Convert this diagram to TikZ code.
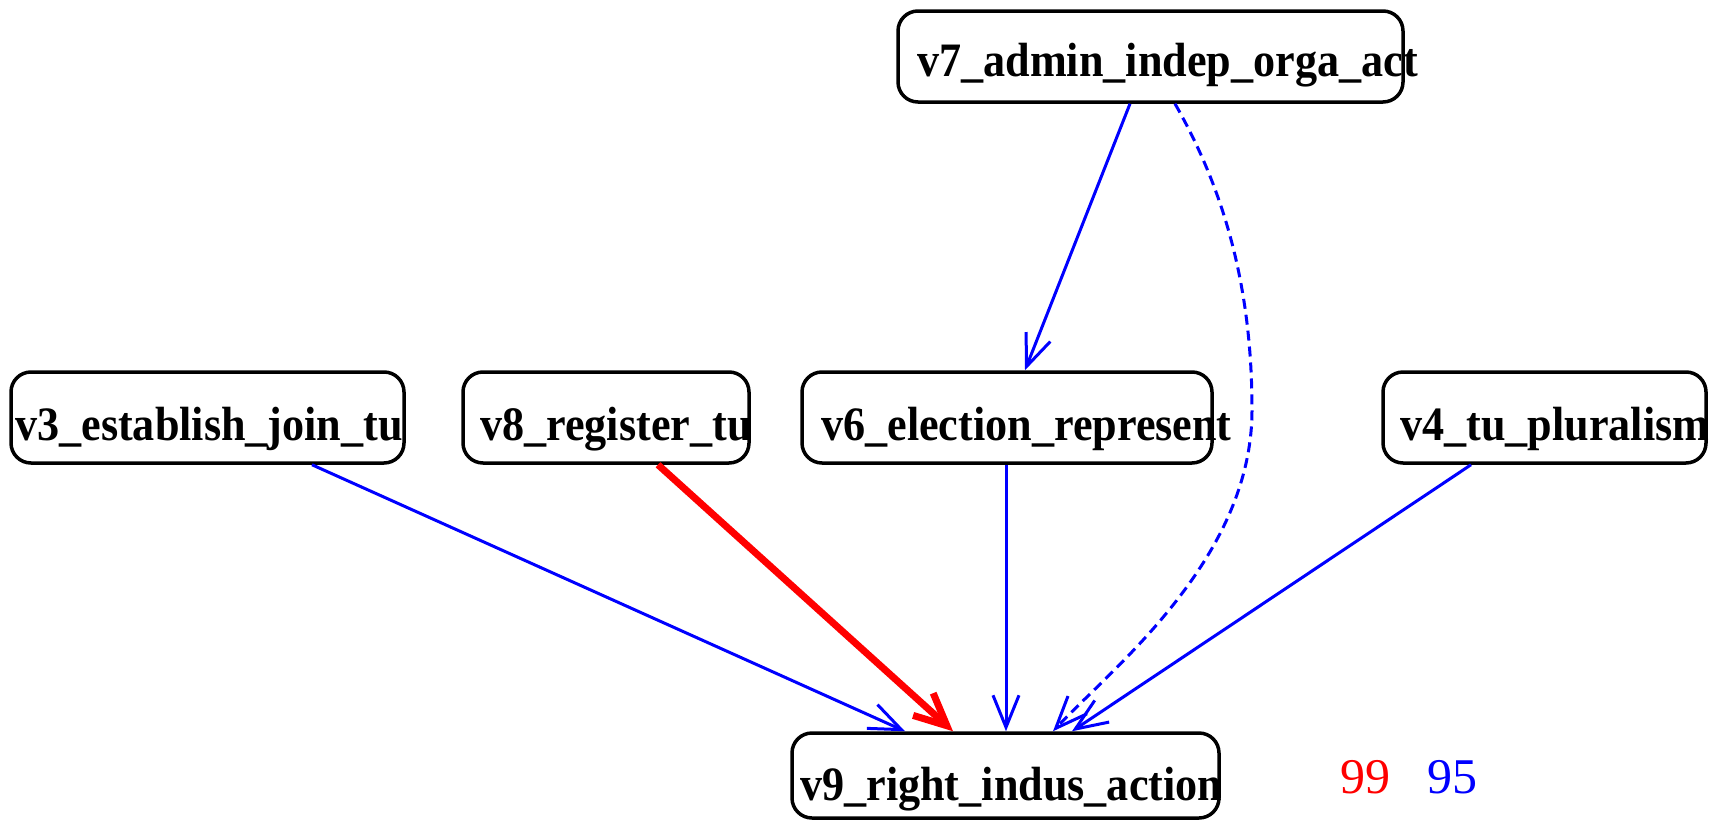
\documentclass[tikz,border=0pt]{standalone}
\usepackage{fontspec}
\usetikzlibrary{arrows.meta}
\newfontfamily\labfont{Liberation Serif}[FakeStretch=0.92]
\newfontfamily\numfont{Liberation Serif}
\begin{document}
\begin{tikzpicture}[x=1pt,y=-1pt,
  box/.style={draw=black,line width=3.5pt,rounded corners=20pt,inner sep=0pt},
  lab/.style={anchor=base west,inner sep=0pt,font=\labfont\bfseries\fontsize{48}{48}\selectfont},
  num/.style={anchor=base west,inner sep=0pt,font=\numfont\fontsize{50}{50}\selectfont},
  edge/.style={draw=blue,line width=3pt,-{Straight Barb[length=32pt,width=26pt]}},
  redge/.style={draw=red,line width=7pt,-{Straight Barb[length=32pt,width=30pt]}}
]
\useasboundingbox (0,0) rectangle (1711,822);
\fill[white] (0,0) rectangle (1711,822);
\node[box,minimum width=505pt,minimum height=91pt] (v7) at (1150.5,56.5) {};
\node[box,minimum width=393pt,minimum height=91pt] (v3) at (207.5,417.5) {};
\node[box,minimum width=286pt,minimum height=91pt] (v8) at (606,417.5) {};
\node[box,minimum width=410pt,minimum height=91pt] (v6) at (1007,417.5) {};
\node[box,minimum width=323pt,minimum height=91pt] (v4) at (1544.5,417.5) {};
\node[box,minimum width=427pt,minimum height=85pt] (v9) at (1005.5,775.5) {};
\node[lab] (t7) at (917,76) {v7\_admin\_indep\_orga\_act};
\node[lab] (t3) at (15,440) {v3\_establish\_join\_tu};
\node[lab] (t8) at (480,440) {v8\_register\_tu};
\node[lab] (t6) at (821,440) {v6\_election\_represent};
\node[lab] (t4) at (1400,440) {v4\_tu\_pluralism};
\node[lab] (t9) at (800,800) {v9\_right\_indus\_action};
\node[num,text=red] (n99) at (1340,793) {99};
\node[num,text=blue] (n95) at (1427,793) {95};
\draw[edge] (v7.south -| 1130,0) -- (v6.north -| 1025,0);
\draw[edge,dashed,dash pattern=on 10pt off 6pt] (v7.south -| 1175,0) .. controls (1230,200) and (1252,300) .. (1252,410) .. controls (1252,560) and (1110,670) .. (v9.north -| 1053,0);
\draw[edge] (v3.south -| 312,0) -- (v9.north -| 905,0);
\draw[redge] (v8.south -| 658,0) -- (v9.north -| 953,0);
\draw[edge] (v6.south -| 1006,0) -- (v9.north -| 1006,0);
\draw[edge] (v4.south -| 1471,0) -- (v9.north -| 1072,0);
\end{tikzpicture}
\end{document}
